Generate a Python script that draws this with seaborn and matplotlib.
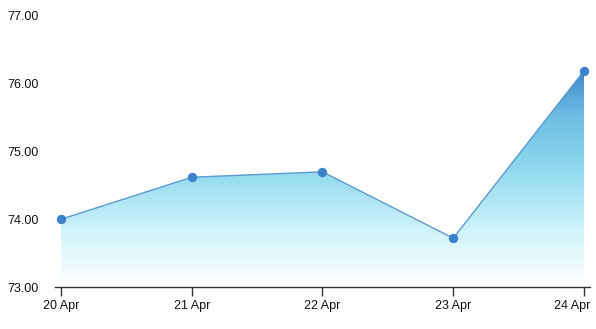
import numpy as np
import pandas as pd
import matplotlib
matplotlib.use("Agg")
import matplotlib.pyplot as plt
import matplotlib.transforms as mtransforms
from matplotlib.colors import LinearSegmentedColormap
import seaborn as sns

dates = ["20 Apr", "21 Apr", "22 Apr", "23 Apr", "24 Apr"]
values = [74.00, 74.62, 74.70, 73.72, 76.19]
y_ticks = [73, 74, 75, 76, 77]

sns.set_theme(style="white")
plt.rcParams['font.family'] = ['Liberation Sans', 'DejaVu Sans']

df = pd.DataFrame({"pos": np.arange(len(dates)), "value": values})

fig = plt.figure(figsize=(5.96, 3.29), dpi=100)
ax = fig.add_axes([55/596, 1 - 287/329, (590-55)/596, (287-16)/329])

ymin, ymax = 73, 77
# gradient fill under the line
poly = ax.fill_between(df["pos"], df["value"], ymin, color="none", lw=0)
cmap = LinearSegmentedColormap.from_list(
    "grad", [(0.0, "#ffffff"), (0.25, "#d2f4fb"), (0.55, "#8fd7ee"), (0.8, "#6cbde3"), (1.0, "#3f86c8")])
grad = np.linspace(0, 1, 256).reshape(-1, 1)
top = max(values)
im = ax.imshow(grad, cmap=cmap, aspect="auto", origin="lower",
               extent=[df["pos"].min(), df["pos"].max(), ymin, top], zorder=1)
path = poly.get_paths()[0]
im.set_clip_path(path, transform=ax.transData)

sns.lineplot(data=df, x="pos", y="value", ax=ax, color="#5a9bd6", lw=1.0,
             marker="o", markersize=6, markerfacecolor="#3b82c9",
             markeredgecolor="#3b82c9", zorder=3)

ax.set_xlim(-0.046, 4.046)
ax.set_ylim(ymin, ymax)
ax.set_xticks(df["pos"])
ax.set_xticklabels(dates, fontsize=9, color="#111111")
ax.set_yticks(y_ticks)
ax.set_yticklabels([f"{t:.2f}" for t in y_ticks], fontsize=9, color="#111111")
ax.set_xlabel("")
ax.set_ylabel("")
for s in ["top", "right", "left"]:
    ax.spines[s].set_visible(False)
ax.spines["bottom"].set_color("#333333")
ax.spines["bottom"].set_linewidth(1.0)
ax.tick_params(axis="x", bottom=True, length=6.5, width=1, color="#333333", pad=3)
ax.tick_params(axis="y", left=False, length=0, pad=11.5)
ax.grid(False)

# keep last x label inside the figure
last = ax.get_xticklabels()[-1]
last.set_horizontalalignment("right")
last.set_transform(last.get_transform() + mtransforms.ScaledTranslation(6/100, 0, fig.dpi_scale_trans))

fig.savefig("out.png", dpi=100)
